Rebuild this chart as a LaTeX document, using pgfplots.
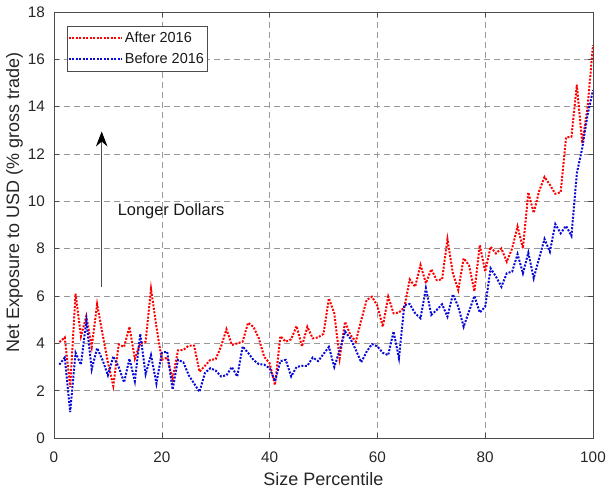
\documentclass[border=0pt]{standalone}
\usepackage{pgfplots}
\pgfplotsset{compat=1.18}
\usepackage{pgfplotstable}
\usetikzlibrary{arrows.meta}
\usepackage{fontspec}
\setmainfont{Liberation Sans}
\definecolor{ared}{RGB}{255,0,0}
\definecolor{bblue}{RGB}{10,10,215}

\pgfplotstableread{
x y
1 4.05
2 4.25
3 2.15
4 6.1
5 4.3
6 5.15
7 3.85
8 5.65
9 4.4
10 3.2
11 2.2
12 3.95
13 3.85
14 4.7
15 3.35
16 4.0
17 4.07
18 6.3
19 4.7
20 3.3
21 3.4
22 2.5
23 3.7
24 3.72
25 3.9
26 3.9
27 2.8
28 3.05
29 3.3
30 3.33
31 3.87
32 4.6
33 3.93
34 4.0
35 4.07
36 4.87
37 4.7
38 4.21
39 3.43
40 3.16
41 2.24
42 4.3
43 4.07
44 4.17
45 4.73
46 3.87
47 4.7
48 4.21
49 4.25
50 4.4
51 5.9
52 5.27
53 3.37
54 4.91
55 4.35
56 4.07
57 4.98
58 5.83
59 5.97
60 5.58
61 4.7
62 5.97
63 5.27
64 5.3
65 5.52
66 6.7
67 6.39
68 7.31
69 6.54
70 7.13
71 6.67
72 6.7
73 8.4
74 6.96
75 6.25
76 7.59
77 7.3
78 6.2
79 8.15
80 7.03
81 8.08
82 7.8
83 8.01
84 7.45
85 8.01
86 8.94
87 8.01
88 10.38
89 9.51
90 10.43
91 11.03
92 10.7
93 10.32
94 10.38
95 12.7
96 12.73
97 14.93
98 12.45
99 14.0
100 16.6
}\after

\pgfplotstableread{
x y
1 3.1
2 3.4
3 1.1
4 3.6
5 3.1
6 4.95
7 2.9
8 3.8
9 3.3
10 2.65
11 3.45
12 3.0
13 2.35
14 3.35
15 2.4
16 4.4
17 2.7
18 3.5
19 2.3
20 3.6
21 3.65
22 2.05
23 3.3
24 3.2
25 2.65
26 2.3
27 1.95
28 2.75
29 2.95
30 2.85
31 2.6
32 2.65
33 3.0
34 2.6
35 3.87
36 3.6
37 3.3
38 3.12
39 3.1
40 2.95
41 2.4
42 3.25
43 3.3
44 2.6
45 3.0
46 3.05
47 3.05
48 3.4
49 3.25
50 3.55
51 3.85
52 3.0
53 3.7
54 4.5
55 4.2
56 3.72
57 3.2
58 3.65
59 3.97
60 3.87
61 3.6
62 3.5
63 4.5
64 3.37
65 5.62
66 5.66
67 5.27
68 5.06
69 6.33
70 5.2
71 5.41
72 5.65
73 5.13
74 6.07
75 5.55
76 4.7
77 5.35
78 6.0
79 5.3
80 5.55
81 7.17
82 6.82
83 6.39
84 6.96
85 7.03
86 7.77
87 6.96
88 7.83
89 6.75
90 7.59
91 8.41
92 7.87
93 9.04
94 8.65
95 8.96
96 8.54
97 11.19
98 12.25
99 13.66
100 14.7
}\before

\begin{document}
\begin{tikzpicture}
\path[use as bounding box] (-54bp,-54bp) rectangle (556bp,438bp);
\begin{axis}[
  at={(0,0)}, anchor=south west,
  width=539bp, height=426bp, scale only axis,
  xmin=0, xmax=100, ymin=0, ymax=18,
  xtick={0,20,...,100}, ytick={0,2,...,18},
  grid=major,
  major grid style={black!40, line width=0.5bp, dash pattern=on 6bp off 4bp},
  axis line style={black!70, line width=0.6bp},
  tick style={black!70, line width=0.6bp},
  tick align=inside, major tick length=5bp,
  /pgf/number format/assume math mode=true,
  tick label style={font=\fontsize{15.3bp}{18bp}\selectfont, text=black!85},
  xticklabel style={anchor=north, inner sep=0pt, yshift=-13.5bp},
  yticklabel style={anchor=east, inner sep=0pt, xshift=-9bp},
  xlabel={Size Percentile},
  ylabel={Net Exposure to USD (\% gross trade)},
  xlabel style={at={(axis description cs:0.5,0)}, anchor=base, inner sep=0pt, yshift=-47.5bp, font=\fontsize{18bp}{21bp}\selectfont, text=black!85},
  ylabel style={at={(axis description cs:-0.0649,0.552)}, anchor=base, inner sep=0pt, font=\fontsize{18bp}{21bp}\selectfont, text=black!85},
  legend style={at={(axis description cs:0.0236,0.968)}, anchor=north west,
    draw=black!70, line width=0.5bp, fill=white,
    font=\fontsize{14.5bp}{17bp}\selectfont, text=black!90,
    inner xsep=1bp, inner ysep=4bp, row sep=5bp,
    /tikz/every even column/.append style={column sep=0bp}},
  legend cell align=left,
  legend image code/.code={\draw[#1] (0bp,0bp) -- (53bp,0bp);},
]
\addplot[ared, line width=2bp, dash pattern=on 2bp off 1.5bp] table[x=x,y=y] {\after};
\addlegendentry{After 2016\hspace{14bp}}
\addplot[bblue, line width=2bp, dash pattern=on 2bp off 1.5bp] table[x=x,y=y] {\before};
\addlegendentry{Before 2016\hspace{14bp}}
\draw[black!70, line width=0.9bp, -{Stealth[length=15bp, width=11.5bp, inset=5bp, color=black]}] (axis cs:8.85,6.4) -- (axis cs:8.85,12.95);
\node[anchor=base west, inner sep=0pt, font=\fontsize{16.4bp}{19bp}\selectfont, text=black!90] at (axis cs:11.8,9.42) {Longer Dollars};
\end{axis}
\end{tikzpicture}
\end{document}
